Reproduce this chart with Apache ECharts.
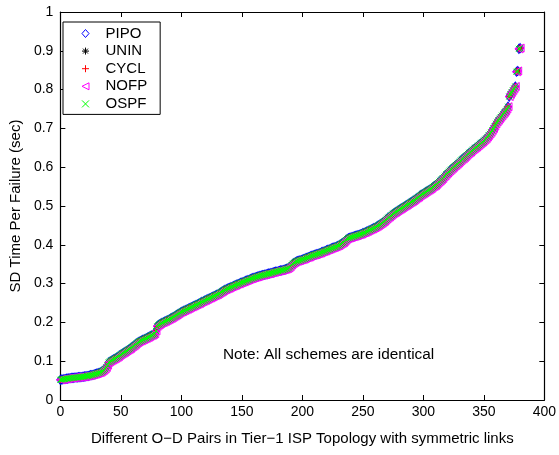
<!DOCTYPE html>
<html>
<head>
<meta charset="utf-8">
<script src="https://cdn.jsdelivr.net/npm/echarts@6/dist/echarts.min.js"></script>
<style>
	html, body { margin: 0; padding: 0; background: #fff; }
	#sdChart { width: 559px; height: 455px; }
</style>
</head>
<body>
<div id="sdChart"></div>
<script>
///******************** 数据部分 ********************\\\

// 图例顺序的方案名
var schemeNames = ['PIPO', 'UNIN', 'CYCL', 'NOFP', 'OSPF'];

// 坐标轴刻度
var xTicks = [0, 50, 100, 150, 200, 250, 300, 350, 400];
var yTicks = [0, 0.1, 0.2, 0.3, 0.4, 0.5, 0.6, 0.7, 0.8, 0.9, 1];

// 每个O-D对的SD时间(秒)，按大小排序，下标即O-D对序号 0..380
var sdTime = [
	0.052, 0.053, 0.053, 0.054, 0.054, 0.055, 0.055, 0.056, 0.056, 0.057,
	0.057, 0.057, 0.058, 0.058, 0.058, 0.059, 0.059, 0.059, 0.060, 0.060,
	0.061, 0.061, 0.062, 0.062, 0.063, 0.064, 0.064, 0.065, 0.066, 0.067,
	0.068, 0.069, 0.070, 0.071, 0.073, 0.075, 0.077, 0.080, 0.084, 0.090,
	0.097, 0.099, 0.101, 0.103, 0.105, 0.106, 0.108, 0.110, 0.112, 0.115,
	0.117, 0.119, 0.121, 0.123, 0.125, 0.127, 0.129, 0.131, 0.133, 0.136,
	0.138, 0.140, 0.143, 0.146, 0.148, 0.150, 0.152, 0.153, 0.155, 0.156,
	0.158, 0.159, 0.161, 0.162, 0.164, 0.166, 0.167, 0.169, 0.171, 0.178,
	0.190, 0.193, 0.195, 0.197, 0.199, 0.200, 0.202, 0.203, 0.205, 0.206,
	0.208, 0.210, 0.211, 0.213, 0.215, 0.217, 0.219, 0.221, 0.223, 0.225,
	0.227, 0.228, 0.230, 0.231, 0.233, 0.234, 0.236, 0.237, 0.239, 0.240,
	0.242, 0.243, 0.245, 0.246, 0.248, 0.249, 0.251, 0.253, 0.254, 0.256,
	0.257, 0.259, 0.260, 0.262, 0.263, 0.265, 0.266, 0.268, 0.269, 0.271,
	0.272, 0.274, 0.276, 0.278, 0.280, 0.282, 0.284, 0.285, 0.287, 0.288,
	0.289, 0.291, 0.292, 0.294, 0.295, 0.296, 0.298, 0.299, 0.300, 0.302,
	0.303, 0.304, 0.305, 0.307, 0.308, 0.309, 0.310, 0.312, 0.313, 0.314,
	0.315, 0.316, 0.317, 0.318, 0.319, 0.320, 0.321, 0.322, 0.322, 0.323,
	0.324, 0.325, 0.326, 0.326, 0.327, 0.328, 0.329, 0.330, 0.331, 0.331,
	0.332, 0.333, 0.334, 0.334, 0.335, 0.336, 0.337, 0.338, 0.339, 0.341,
	0.344, 0.348, 0.351, 0.353, 0.355, 0.357, 0.358, 0.359, 0.360, 0.361,
	0.362, 0.363, 0.364, 0.366, 0.367, 0.368, 0.369, 0.371, 0.372, 0.373,
	0.374, 0.375, 0.376, 0.377, 0.378, 0.379, 0.381, 0.382, 0.383, 0.384,
	0.386, 0.387, 0.388, 0.389, 0.391, 0.392, 0.393, 0.394, 0.395, 0.397,
	0.398, 0.400, 0.402, 0.404, 0.406, 0.409, 0.412, 0.415, 0.417, 0.418,
	0.419, 0.420, 0.421, 0.422, 0.423, 0.424, 0.425, 0.426, 0.427, 0.428,
	0.430, 0.431, 0.432, 0.434, 0.435, 0.437, 0.438, 0.440, 0.441, 0.443,
	0.444, 0.446, 0.448, 0.450, 0.452, 0.454, 0.456, 0.459, 0.461, 0.464,
	0.467, 0.470, 0.472, 0.475, 0.477, 0.480, 0.482, 0.484, 0.486, 0.488,
	0.490, 0.492, 0.494, 0.496, 0.498, 0.500, 0.502, 0.504, 0.506, 0.508,
	0.510, 0.512, 0.514, 0.516, 0.519, 0.521, 0.523, 0.526, 0.528, 0.530,
	0.532, 0.534, 0.536, 0.538, 0.540, 0.542, 0.544, 0.546, 0.549, 0.551,
	0.553, 0.556, 0.559, 0.562, 0.565, 0.568, 0.571, 0.575, 0.578, 0.582,
	0.585, 0.588, 0.591, 0.594, 0.597, 0.600, 0.603, 0.605, 0.608, 0.611,
	0.614, 0.617, 0.620, 0.622, 0.625, 0.628, 0.631, 0.634, 0.637, 0.639,
	0.642, 0.645, 0.647, 0.650, 0.652, 0.655, 0.657, 0.660, 0.663, 0.665,
	0.668, 0.671, 0.674, 0.678, 0.682, 0.686, 0.690, 0.695, 0.700, 0.706,
	0.712, 0.717, 0.721, 0.725, 0.729, 0.733, 0.737, 0.741, 0.745, 0.750,
	0.756, 0.782, 0.788, 0.793, 0.798, 0.803, 0.808, 0.846, 0.848, 0.905,
	0.907
];

///******************** 图表部分 ********************\\\

var FONT = '"Liberation Sans", Arial, Helvetica, sans-serif';

// 每个方案的标记样式(与matlab一样：菱形、星号、加号、左三角、叉)
var markers = [
	{ symbol: 'diamond', size: [7, 9], border: '#0000ff' },
	{ symbol: 'path://M4,0L4,8M0,4L8,4M1.2,1.2L6.8,6.8M6.8,1.2L1.2,6.8', size: 6, border: '#000000' },
	{ symbol: 'path://M4,0L4,8M0,4L8,4', size: 7, border: '#ff0000' },
	{ symbol: 'path://M0,4L8,0L8,8Z', size: 8, border: '#ff00ff' },
	{ symbol: 'path://M0,0L6,6M6,0L0,6', size: 6, border: '#00ff00' }
];

var points = sdTime.map(function (v, i) { return [i, v]; });

var series = schemeNames.map(function (name, k) {
	var m = markers[k];
	return {
		name: name,
		type: 'scatter',
		data: points,
		symbol: m.symbol,
		symbolSize: m.size,
		itemStyle: {
			color: 'rgba(0,0,0,0)',
			borderColor: m.border,
			borderWidth: 1,
			opacity: 1
		},
		emphasis: { disabled: true },
		silent: true
	};
});

var axisCommon = {
	type: 'value',
	axisLine: { show: true, onZero: false, lineStyle: { color: '#000', width: 1.2 } },
	axisTick: { show: true, inside: true, length: 5, lineStyle: { color: '#000', width: 1 } },
	splitLine: { show: false }
};

var option = {
	animation: false,
	backgroundColor: '#fff',
	textStyle: { fontFamily: FONT },
	grid: { left: 53, right: 13, top: 12, bottom: 55 },
	legend: {
		data: schemeNames,
		orient: 'vertical',
		left: 63,
		top: 22,
		itemWidth: 7,
		itemHeight: 8,
		itemGap: 2.6,
		padding: [4, 13, 3, 18.5],
		borderColor: '#000',
		borderWidth: 1,
		backgroundColor: '#fff',
		itemStyle: { borderWidth: 1 },
		textStyle: { fontSize: 15, color: '#000', fontFamily: FONT, padding: [0, 0, 0, 11.5] },
		selectedMode: false
	},
	xAxis: [
		Object.assign({}, axisCommon, {
			position: 'bottom',
			min: xTicks[0],
			max: xTicks[xTicks.length - 1],
			interval: 50,
			name: 'Different O\u2212D Pairs in Tier\u22121 ISP Topology with symmetric links',
			nameLocation: 'middle',
			nameGap: 31,
			nameTextStyle: { fontSize: 15, color: '#000', fontFamily: FONT },
			axisLabel: { fontSize: 14, color: '#000', margin: 5, fontFamily: FONT }
		}),
		Object.assign({}, axisCommon, {
			position: 'top',
			min: xTicks[0],
			max: xTicks[xTicks.length - 1],
			interval: 50,
			axisLabel: { show: false }
		})
	],
	yAxis: [
		Object.assign({}, axisCommon, {
			position: 'left',
			min: yTicks[0],
			max: yTicks[yTicks.length - 1],
			interval: 0.1,
			name: 'SD Time Per Failure (sec)',
			nameLocation: 'middle',
			nameGap: 32,
			nameTextStyle: { fontSize: 15, color: '#000', fontFamily: FONT },
			axisLabel: { fontSize: 14, color: '#000', margin: 7, fontFamily: FONT }
		}),
		Object.assign({}, axisCommon, {
			position: 'right',
			min: yTicks[0],
			max: yTicks[yTicks.length - 1],
			interval: 0.1,
			axisLabel: { show: false }
		})
	],
	graphic: [{
		type: 'text',
		left: 223,
		top: 347,
		style: {
			text: 'Note: All schemes are identical',
			fontSize: 15.4,
			fontFamily: FONT,
			fill: '#000'
		}
	}],
	series: series
};

var sdChart = echarts.init(document.getElementById('sdChart'), null, { renderer: 'canvas' });
sdChart.setOption(option);
</script>
</body>
</html>
